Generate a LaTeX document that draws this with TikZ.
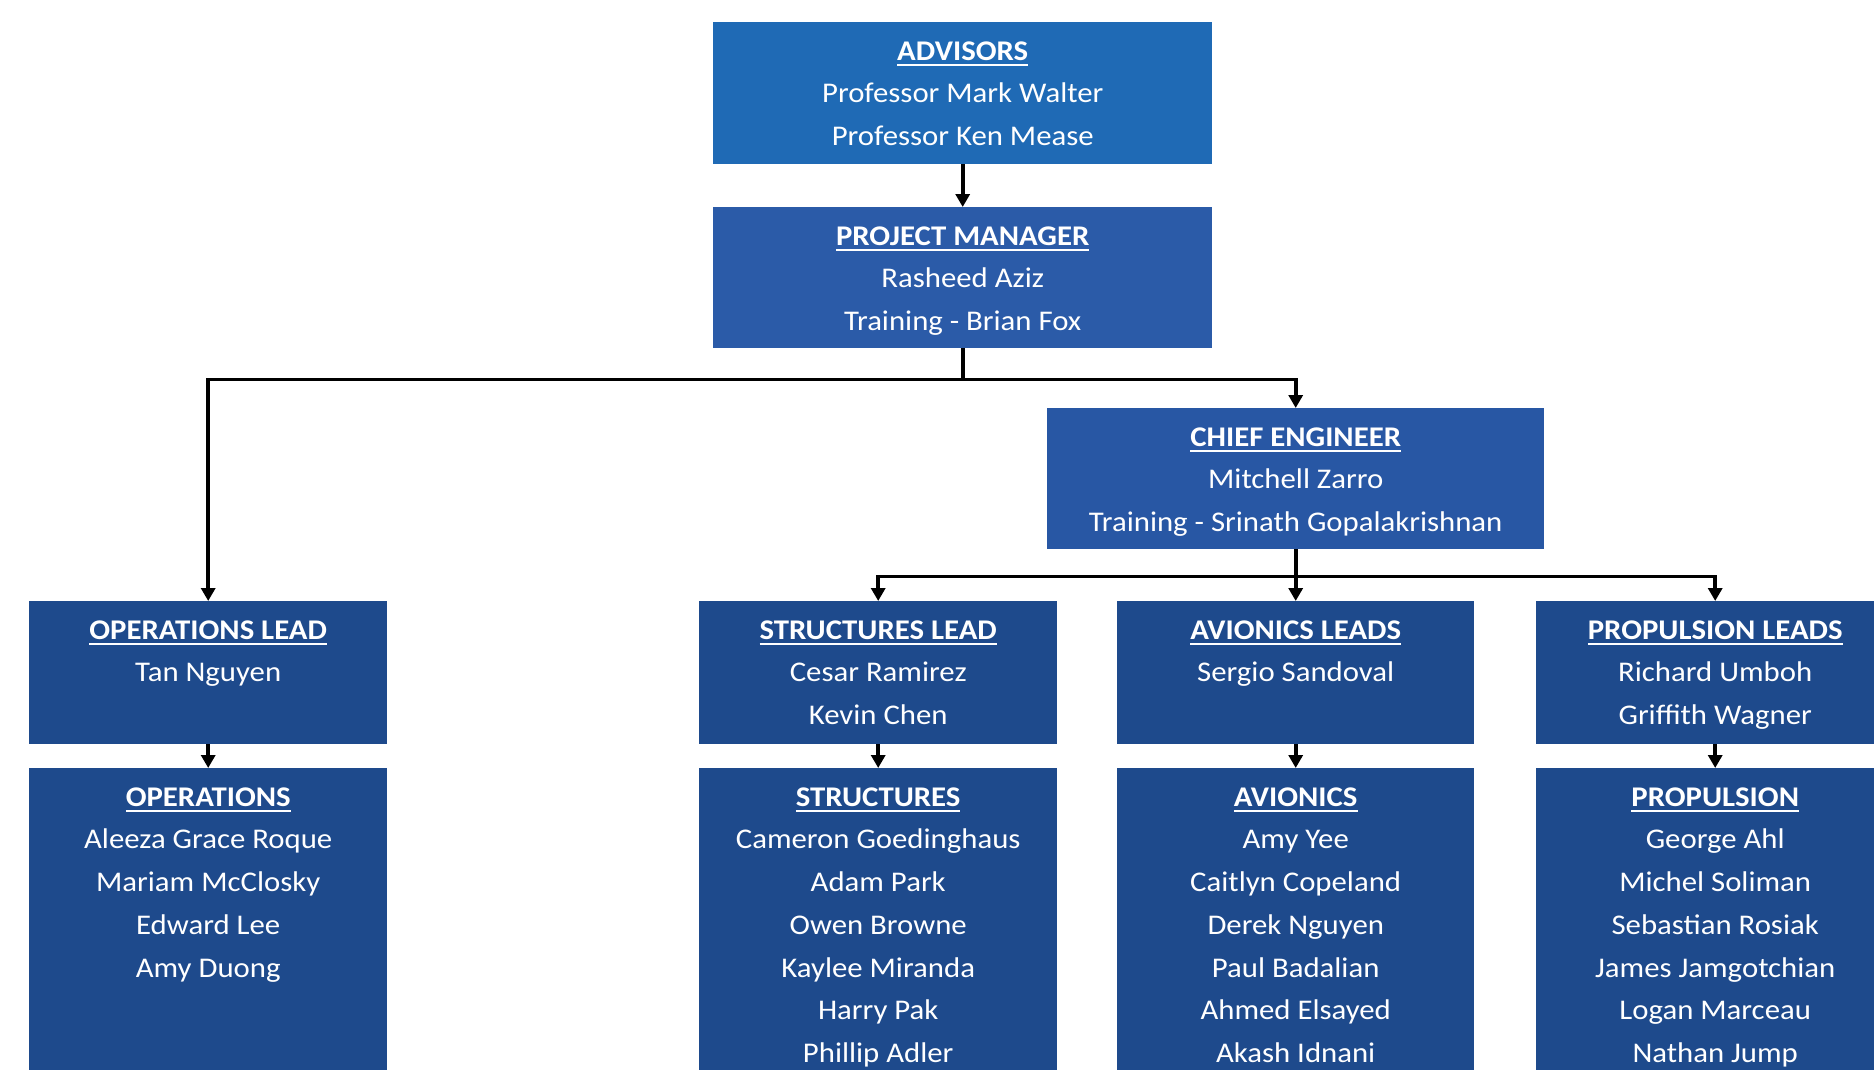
\documentclass[tikz,border=0pt]{standalone}
\usepackage{fontspec}
\setmainfont{Carlito}[FakeStretch=1.08]
\usetikzlibrary{arrows.meta}
\definecolor{advblue}{RGB}{31,106,181}
\definecolor{pmblue}{RGB}{43,91,168}
\definecolor{ceblue}{RGB}{40,87,164}
\definecolor{teamblue}{RGB}{30,74,140}
\newsavebox\hdbox
\newcommand\hd[1]{\sbox\hdbox{\bfseries #1}\rule{0pt}{25pt}\rlap{\usebox\hdbox}\rule[-6pt]{\wd\hdbox}{2pt}}
\tikzset{
  boxn/.style={rectangle, draw=none, inner sep=0pt, anchor=north west},
  txt/.style={text=white, font=\fontsize{28.5}{42.7}\selectfont, align=center, inner sep=0pt, anchor=north},
  conn/.style={line width=3.6pt, -{Triangle[length=13pt,width=14pt]}},
}
\begin{document}
\begin{tikzpicture}[x=1pt,y=1pt]
\path[use as bounding box] (0,0) rectangle (1874,-1070);
\clip (0,0) rectangle (1874,-1070);
% boxes
\node[boxn, fill=advblue, minimum width=499pt, minimum height=142pt] (adv) at (713,-22) {};
\node[boxn, fill=pmblue, minimum width=499pt, minimum height=141pt] (pm) at (713,-207) {};
\node[boxn, fill=ceblue, minimum width=497pt, minimum height=141pt] (ce) at (1047,-408) {};
\node[boxn, fill=teamblue, minimum width=358pt, minimum height=143pt] (opsl) at (29,-601) {};
\node[boxn, fill=teamblue, minimum width=358pt, minimum height=143pt] (strl) at (699,-601) {};
\node[boxn, fill=teamblue, minimum width=357pt, minimum height=143pt] (avil) at (1117,-601) {};
\node[boxn, fill=teamblue, minimum width=358pt, minimum height=143pt] (prol) at (1536,-601) {};
\node[boxn, fill=teamblue, minimum width=358pt, minimum height=340pt] (ops) at (29,-768) {};
\node[boxn, fill=teamblue, minimum width=358pt, minimum height=340pt] (str) at (699,-768) {};
\node[boxn, fill=teamblue, minimum width=357pt, minimum height=340pt] (avi) at (1117,-768) {};
\node[boxn, fill=teamblue, minimum width=358pt, minimum height=340pt] (pro) at (1536,-768) {};
% texts
\node[txt] (advt) at ([yshift=-13pt]adv.north) {\hd{ADVISORS}\\Professor Mark Walter\\Professor Ken Mease};
\node[txt] (pmt) at ([yshift=-13pt]pm.north) {\hd{PROJECT MANAGER}\\Rasheed Aziz\\Training - Brian Fox};
\node[txt] (cet) at ([yshift=-13pt]ce.north) {\hd{CHIEF ENGINEER}\\Mitchell Zarro\\Training - Srinath Gopalakrishnan};
\node[txt] (opslt) at ([yshift=-13pt]opsl.north) {\hd{OPERATIONS LEAD}\\Tan Nguyen};
\node[txt] (strlt) at ([yshift=-13pt]strl.north) {\hd{STRUCTURES LEAD}\\Cesar Ramirez\\Kevin Chen};
\node[txt] (avilt) at ([yshift=-13pt]avil.north) {\hd{AVIONICS LEADS}\\Sergio Sandoval};
\node[txt] (prolt) at ([yshift=-13pt]prol.north) {\hd{PROPULSION LEADS}\\Richard Umboh\\Griffith Wagner};
\node[txt] (opst) at ([yshift=-13pt]ops.north) {\hd{OPERATIONS}\\Aleeza Grace Roque\\Mariam McClosky\\Edward Lee\\Amy Duong};
\node[txt] (strt) at ([yshift=-13pt]str.north) {\hd{STRUCTURES}\\Cameron Goedinghaus\\Adam Park\\Owen Browne\\Kaylee Miranda\\Harry Pak\\Phillip Adler};
\node[txt] (avit) at ([yshift=-13pt]avi.north) {\hd{AVIONICS}\\Amy Yee\\Caitlyn Copeland\\Derek Nguyen\\Paul Badalian\\Ahmed Elsayed\\Akash Idnani};
\node[txt] (prot) at ([yshift=-13pt]pro.north) {\hd{PROPULSION}\\George Ahl\\Michel Soliman\\Sebastian Rosiak\\James Jamgotchian\\Logan Marceau\\Nathan Jump};
% connectors
\coordinate (j1) at ([yshift=-31pt]pm.south);
\coordinate (j2) at ([yshift=-27pt]ce.south);
\draw[conn] (adv.south) -- (pm.north);
\draw[conn] (pm.south) -- (j1) -| (opsl.north);
\draw[conn] (pm.south) -- (j1) -| (ce.north);
\draw[conn] (ce.south) -- (j2) -| (strl.north);
\draw[conn] (ce.south) -- (avil.north);
\draw[conn] (ce.south) -- (j2) -| (prol.north);
\draw[conn] (opsl.south) -- (ops.north);
\draw[conn] (strl.south) -- (str.north);
\draw[conn] (avil.south) -- (avi.north);
\draw[conn] (prol.south) -- (pro.north);
\end{tikzpicture}
\end{document}
